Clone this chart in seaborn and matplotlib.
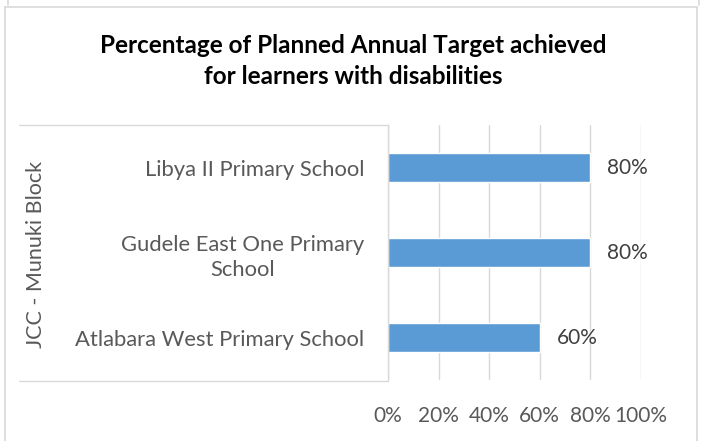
import matplotlib
matplotlib.use("Agg")
import matplotlib.pyplot as plt
import seaborn as sns
import pandas as pd
from matplotlib.lines import Line2D

schools = ["Libya II Primary School", "Gudele East One Primary\nSchool", "Atlabara West Primary School"]
achieved = [0.80, 0.80, 0.60]
group_label = "JCC - Munuki Block"
title = "Percentage of Planned Annual Target achieved\nfor learners with disabilities"
xticks = [0.0, 0.2, 0.4, 0.6, 0.8, 1.0]
xtick_labels = ["0%", "20%", "40%", "60%", "80%", "100%"]

sns.set_theme(style="white")
plt.rcParams['font.family'] = ['Lato', 'DejaVu Sans']

W, H = 705, 441
fig = plt.figure(figsize=(W / 100, H / 100), dpi=100)

def fx(px):
    return px / W

def fy(py):
    return 1 - py / H

ax = fig.add_axes([fx(388), fy(380), fx(641) - fx(388), fy(125) - fy(380)])
df = pd.DataFrame({"school": schools, "achieved": achieved})
sns.barplot(data=df, y="school", x="achieved", orient="h", color="#5B9BD5",
            width=0.35, saturation=1, ax=ax)
ax.set_xlim(0, 1)
ax.set_xticks(xticks)
ax.set_xticklabels(xtick_labels)
ax.set_xlabel("")
ax.set_ylabel("")
ax.grid(axis="x", color="#D9D9D9", linewidth=1.0)
ax.set_axisbelow(True)
for s in ["top", "right", "bottom"]:
    ax.spines[s].set_visible(False)
ax.spines["left"].set_color("#D9D9D9")
ax.spines["left"].set_linewidth(1.0)
ax.tick_params(axis="x", length=0, pad=18.5, labelsize=15, labelcolor="#595959")
ax.tick_params(axis="y", length=0, pad=17, labelsize=15.8, labelcolor="#595959")
for lbl in ax.get_yticklabels():
    lbl.set_horizontalalignment("right")
    lbl.set_multialignment("center")
    lbl.set_linespacing(1.32)

for p, v in zip(ax.patches, achieved):
    y = p.get_y() + p.get_height() / 2
    ax.annotate(f"{v:.0%}", (v, y), xytext=(12, 0), textcoords="offset points",
                ha="left", va="center", fontsize=15, color="#404040")

# group label and category box
fig.text(fx(36), fy(254), group_label, rotation=90, ha="center", va="center",
         fontsize=15.5, color="#595959")
fig.add_artist(Line2D([fx(19), fx(388)], [fy(125), fy(125)], color="#D9D9D9", lw=1.0))
fig.add_artist(Line2D([fx(19), fx(388)], [fy(381), fy(381)], color="#D9D9D9", lw=1.0))

# title
fig.text(fx(353), fy(61), title, ha="center", va="center", fontsize=17.5,
         fontweight="bold", color="#000000", linespacing=1.45)

# chart border
fig.add_artist(Line2D([fx(5), fx(697)], [fy(7), fy(7)], color="#D9D9D9", lw=1.2))
fig.add_artist(Line2D([fx(5), fx(5)], [fy(7), 0], color="#D9D9D9", lw=1.2))
fig.add_artist(Line2D([fx(697), fx(697)], [fy(7), 0], color="#D9D9D9", lw=1.2))
fig.add_artist(Line2D([fx(8), fx(8)], [1, fy(5)], color="#D9D9D9", lw=1.2))
fig.add_artist(Line2D([fx(699), fx(699)], [1, fy(5)], color="#D9D9D9", lw=1.2))

fig.savefig("out.png", dpi=100, facecolor="white")
